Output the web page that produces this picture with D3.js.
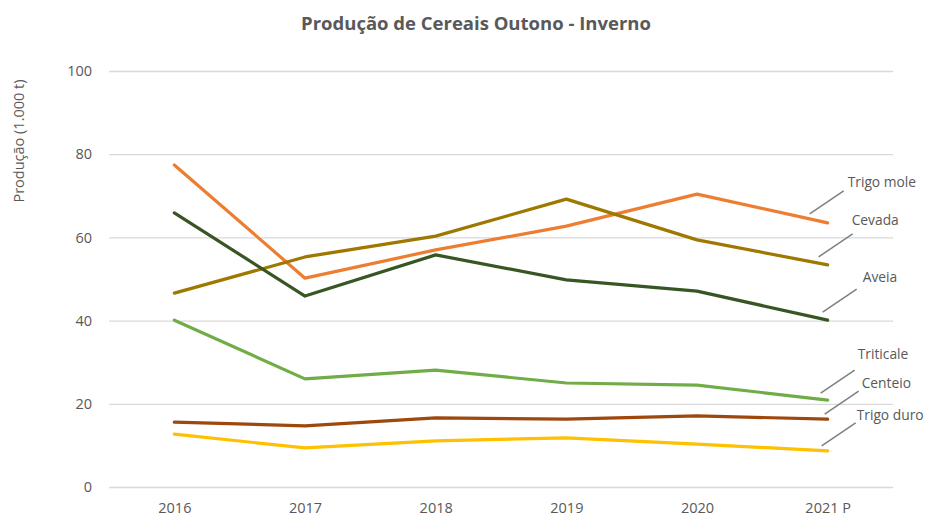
<!DOCTYPE html>
<html>
<head>
<meta charset="utf-8">
<script src="https://cdn.jsdelivr.net/npm/d3@7"></script>
<style>
  body { margin: 0; background: #fff; }
  text { font-family: "Open Sans", sans-serif; }
</style>
</head>
<body>
<svg id="chart" width="926" height="517"></svg>
<script>
// anos (categorias)
let years = ['2016', '2017', '2018', '2019', '2020', '2021 P'];
let yTicks = [0, 20, 40, 60, 80, 100];

// produção por cereal (1.000 t)
let trigoMole = [77.4, 50.2, 57.0, 62.7, 70.4, 63.5];
let cevada    = [46.6, 55.3, 60.3, 69.2, 59.4, 53.4];
let aveia     = [65.9, 45.9, 55.8, 49.8, 47.1, 40.1];
let triticale = [40.1, 26.0, 28.1, 25.0, 24.5, 20.9];
let centeio   = [15.6, 14.7, 16.6, 16.3, 17.1, 16.3];
let trigoDuro = [12.7,  9.4, 11.1, 11.8, 10.3,  8.7];

let seriesNames = ['Trigo mole', 'Cevada', 'Aveia', 'Triticale', 'Centeio', 'Trigo duro'];
let seriesValues = [trigoMole, cevada, aveia, triticale, centeio, trigoDuro];

// estilo
let colors = ['#ED7D31', '#9E7800', '#375623', '#70AD47', '#9E480E', '#FFC000'];
// posição dos rótulos em relação ao último ponto: [texto dx, dy, linha dx, dy]
let labelLayout = [
  [20, -36, -18, -9],
  [24, -40, -9, -8],
  [35, -38, -5, -8],
  [30, -41, -7, -7],
  [34, -31, -3, -5],
  [29, -31, -6, -5]
];

let svg = d3.select('#chart');
let margin = {top: 71, right: 33, bottom: 30, left: 109};
let width = 926 - margin.left - margin.right;
let height = 487 - margin.top;

let x = d3.scalePoint()
    .domain(years)
    .range([0, width])
    .padding(0.5);

let y = d3.scaleLinear()
    .domain([0, 100])
    .range([height, 0]);

let g = svg.append('g')
    .attr('transform', 'translate(' + margin.left + ',' + margin.top + ')');

// grelha
g.append('g')
    .call(d3.axisLeft(y).tickValues(yTicks).tickSize(-width).tickFormat(''))
    .call(function(s){ s.select('.domain').remove(); })
    .selectAll('line')
      .attr('stroke', '#d9d9d9')
      .attr('stroke-width', 1.3);

// eixo y
g.append('g')
    .call(d3.axisLeft(y).tickValues(yTicks).tickSize(0).tickPadding(17))
    .call(function(s){ s.select('.domain').remove(); })
    .selectAll('text')
      .attr('fill', '#595959')
      .style('font-size', '14.5px')
      .style('font-family', '"Open Sans", sans-serif');

// eixo x
g.append('g')
    .attr('transform', 'translate(0,' + height + ')')
    .call(d3.axisBottom(x).tickSize(0).tickPadding(16))
    .call(function(s){ s.select('.domain').remove(); })
    .selectAll('text')
      .attr('fill', '#595959')
      .style('font-size', '14.5px')
      .style('font-family', '"Open Sans", sans-serif');

let line = d3.line()
    .x(function(d, i){ return x(years[i]); })
    .y(function(d){ return y(d); });

// linhas
g.selectAll('.serie')
  .data(seriesValues)
  .enter().append('path')
    .attr('class', 'serie')
    .attr('fill', 'none')
    .attr('stroke', function(d, i){ return colors[i]; })
    .attr('stroke-width', 3.2)
    .attr('stroke-linejoin', 'round')
    .attr('stroke-linecap', 'round')
    .attr('d', line);

// rótulos com linhas de chamada
seriesValues.forEach(function(vals, i){
  let px = x(years[years.length - 1]);
  let py = y(vals[vals.length - 1]);
  let L = labelLayout[i];
  let sx = px + L[2], sy = py + L[3];
  g.append('line')
    .attr('x1', sx).attr('y1', sy)
    .attr('x2', sx + 34).attr('y2', sy - 23)
    .attr('stroke', '#7f7f7f')
    .attr('stroke-width', 1.5);
  g.append('text')
    .attr('x', px + L[0])
    .attr('y', py + L[1])
    .attr('fill', '#595959')
    .style('font-size', '13.8px')
    .text(seriesNames[i]);
});

// título do eixo y
svg.append('text')
    .attr('transform', 'translate(24,141) rotate(-90)')
    .attr('text-anchor', 'middle')
    .attr('fill', '#595959')
    .style('font-size', '14.5px')
    .text('Produção (1.000 t)');

// título
svg.append('text')
    .attr('x', 476)
    .attr('y', 30)
    .attr('text-anchor', 'middle')
    .attr('fill', '#595959')
    .style('font-size', '18.5px')
    .style('font-weight', 'bold')
    .text('Produção de Cereais Outono - Inverno');
</script>
</body>
</html>
